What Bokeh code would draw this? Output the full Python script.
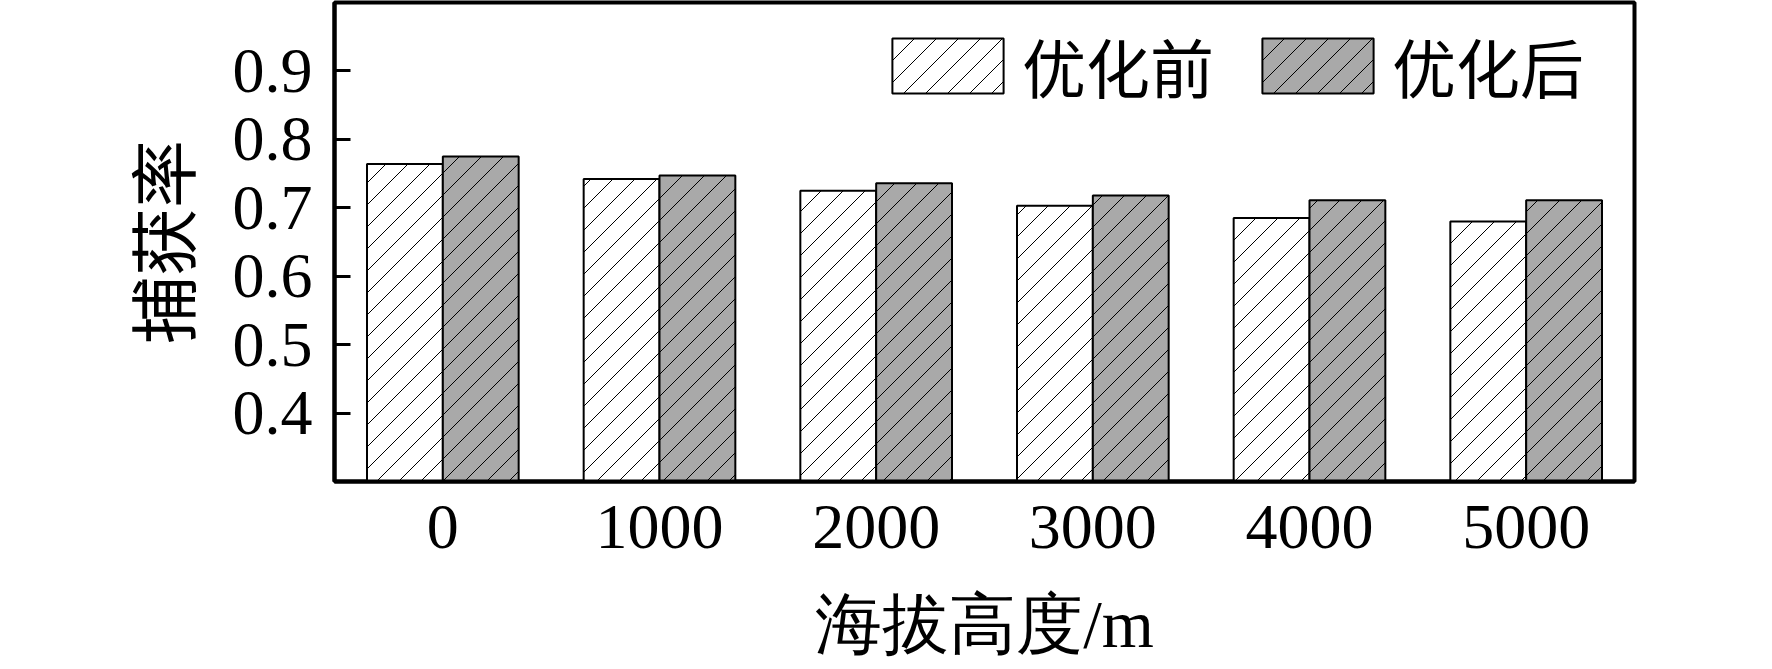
import base64, struct, zlib
from bokeh.plotting import figure
from bokeh.models import (FactorRange, Range1d, FixedTicker, Legend, LegendItem, ColumnDataSource,
                          ImageURLTexture)
from bokeh.core.properties import value
from bokeh.transform import dodge
from bokeh.embed import file_html
from bokeh.resources import INLINE

altitudes = ["0", "1000", "2000", "3000", "4000", "5000"]
before = [0.764, 0.742, 0.725, 0.703, 0.685, 0.680]
after = [0.775, 0.747, 0.736, 0.718, 0.711, 0.711]
y_ticks = [0.4, 0.5, 0.6, 0.7, 0.8, 0.9]
series_names = ["优化前", "优化后"]
x_title = "海拔高度/m"
y_title = "捕获率"

SERIF = "Liberation Serif"
CJK = "Noto Sans CJK SC"

src = ColumnDataSource(dict(x=altitudes, before=before, after=after))


# 45-degree "/" hatch tile as a small PNG
def png_tile(n):
    rows = b""
    for y in range(n):
        row = bytearray([0])
        for x in range(n):
            row += bytes([0, 0, 0, 255]) if x + y == n - 1 else bytes([0, 0, 0, 0])
        rows += bytes(row)

    def chunk(t, d):
        return struct.pack(">I", len(d)) + t + d + struct.pack(">I", zlib.crc32(t + d) & 0xffffffff)

    ihdr = struct.pack(">IIBBBBB", n, n, 8, 6, 0, 0, 0)
    return b"\x89PNG\r\n\x1a\n" + chunk(b"IHDR", ihdr) + chunk(b"IDAT", zlib.compress(rows)) + chunk(b"IEND", b"")


diag = ImageURLTexture(repetition="repeat",
                       url="data:image/png;base64," + base64.b64encode(png_tile(22)).decode())

W, H = 1772, 669
p = figure(width=W, height=H, x_range=FactorRange(factors=altitudes, range_padding=0),
           y_range=Range1d(0.3, 1.0), output_backend="svg", toolbar_location=None,
           min_border_left=334, min_border_right=W - 1634, min_border_top=2, min_border_bottom=H - 481)

r1 = p.vbar(x=dodge("x", -0.175, range=p.x_range), top="before", bottom=0.3, width=0.35, source=src,
            fill_color="white", line_color="black", line_width=2,
            hatch_pattern=value("diag"), hatch_extra={"diag": diag}, hatch_color="black")
r2 = p.vbar(x=dodge("x", 0.175, range=p.x_range), top="after", bottom=0.3, width=0.35, source=src,
            fill_color="#a9a9a9", line_color="black", line_width=2,
            hatch_pattern=value("diag"), hatch_extra={"diag": diag}, hatch_color="black")

p.xgrid.visible = False
p.ygrid.visible = False
p.outline_line_color = "black"
p.outline_line_width = 4

# y axis
p.yaxis.ticker = FixedTicker(ticks=y_ticks)
p.yaxis.axis_line_width = 4
p.yaxis.major_tick_in = 16
p.yaxis.major_tick_out = 0
p.yaxis.major_tick_line_width = 3
p.yaxis.minor_tick_line_color = None
p.yaxis.major_label_text_font = SERIF
p.yaxis.major_label_text_font_size = "64px"
p.yaxis.major_label_text_color = "black"
p.yaxis.major_label_standoff = 22
p.yaxis.axis_label = y_title
p.yaxis.axis_label_text_font = CJK
p.yaxis.axis_label_text_font_size = "68px"
p.yaxis.axis_label_text_font_style = "normal"
p.yaxis.axis_label_text_color = "black"
p.yaxis.axis_label_standoff = 20

# x axis
p.xaxis.axis_line_width = 4
p.xaxis.major_tick_in = 0
p.xaxis.major_tick_out = 0
p.xaxis.minor_tick_line_color = None
p.xaxis.major_label_text_font = SERIF
p.xaxis.major_label_text_font_size = "64px"
p.xaxis.major_label_text_color = "black"
p.xaxis.major_label_standoff = 24
p.xaxis.axis_label = x_title
p.xaxis.axis_label_text_font = SERIF
p.xaxis.axis_label_text_font_size = "67px"
p.xaxis.axis_label_text_font_style = "normal"
p.xaxis.axis_label_text_color = "black"
p.xaxis.axis_label_standoff = 36

legend = Legend(items=[LegendItem(label=series_names[0], renderers=[r1]),
                       LegendItem(label=series_names[1], renderers=[r2])],
                orientation="horizontal", location=(544, 370),
                glyph_width=139, glyph_height=69, label_standoff=5, spacing=34,
                padding=0, margin=0, border_line_color=None, background_fill_alpha=0,
                label_text_font=CJK, label_text_font_size="64px", label_text_color="black")
p.add_layout(legend, "center")

open("out.html", "w").write(file_html(p, INLINE))
